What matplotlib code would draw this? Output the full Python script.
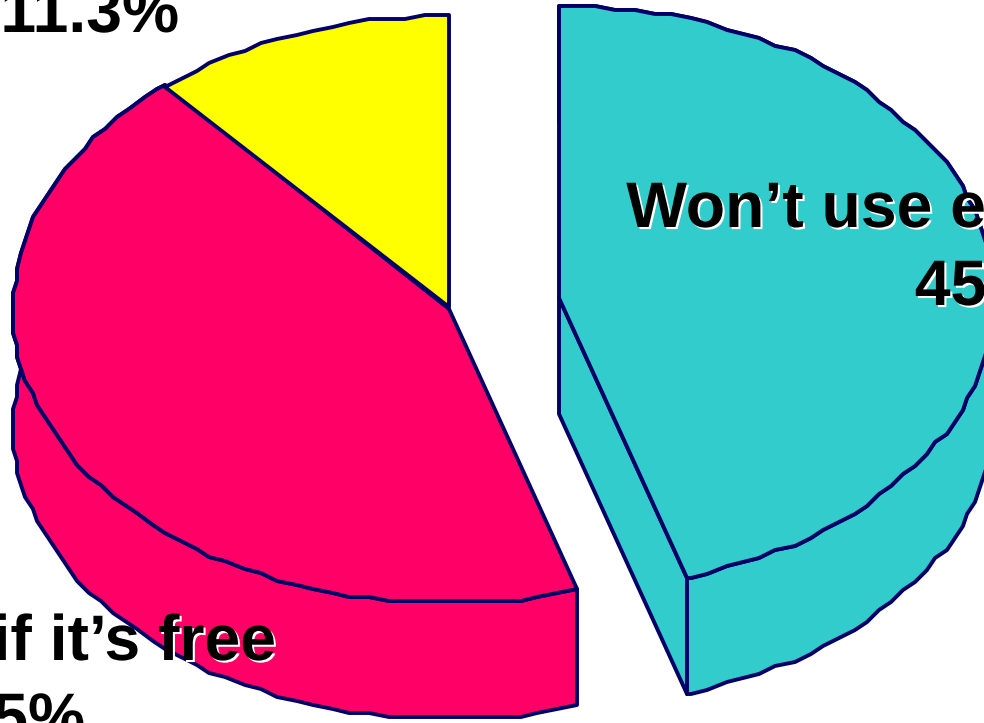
"""Exploded 3D pie, cropped the same way the slide screenshot is."""
import matplotlib

matplotlib.use("Agg")
import matplotlib.patheffects as pe
import matplotlib.pyplot as plt
import numpy as np

LABELS = ["Won\u2019t use even if it\u2019s free", "Will use if it\u2019s free", ""]
PERCENTS = [45.4, 43.5, 11.3]
PERCENT_TEXT = ["45.4%", "43.5%", "11.3%"]

TEAL = "#33CCCC"
PINK = "#FF0066"
YELLOW = "#FFFF00"
NAVY = "#000066"

RX = 436
DEPTH = 116
GRID = 4  # the original outline is visibly snapped to a coarse grid


def arc(cx, cy, ry, start, stop):
    """Points along the pie rim, angles in degrees clockwise from the top."""
    t = np.radians(np.arange(start, stop + 0.01, 2.5))
    t = np.append(t, np.radians(stop))
    x = cx + np.round(RX * np.sin(t) / GRID) * GRID
    y = cy - np.round(ry * np.cos(t) / GRID) * GRID
    return x, y


def draw_slice(ax, cx, cy, ry, start, stop, color, side_from=None):
    style = dict(facecolor=color, edgecolor=NAVY, linewidth=2.8, joinstyle="round")
    x, y = arc(cx, cy, ry, start, stop)
    if side_from is not None:
        # cut face on the exploded slice
        if side_from == "cut":
            ax.fill(
                [cx, cx, x[-1], x[-1]],
                [cy, cy + DEPTH, y[-1] + DEPTH, y[-1]],
                **style,
            )
        ax.fill(
            np.r_[x, x[::-1]],
            np.r_[y, y[::-1] + DEPTH],
            **style,
        )
    ax.fill(np.r_[cx, x], np.r_[cy, y], **style)


def draw_label(ax, x, y, text, ha="center"):
    ax.text(
        x,
        y,
        text,
        ha=ha,
        va="baseline",
        fontsize=46.3,
        fontweight="bold",
        family="Liberation Sans",
        color="black",
        path_effects=[
            pe.withSimplePatchShadow(offset=(1.5, -1.5), shadow_rgbFace="white", alpha=1.0)
        ],
    )


fig = plt.figure(figsize=(9.84, 7.23), dpi=100)
ax = fig.add_axes([0, 0, 1, 1])
ax.set_xlim(0, 984)
ax.set_ylim(723, 0)
ax.axis("off")

# rounded labels do not quite add up, so normalise like a pie does
angles = np.cumsum([0] + PERCENTS) / sum(PERCENTS) * 360

draw_slice(ax, 559, 298, 292, angles[0], angles[1], TEAL, side_from="cut")
draw_slice(ax, 449, 309, 294, angles[1], angles[2], PINK, side_from="rim")
draw_slice(ax, 449, 307, 291, angles[2], angles[3], YELLOW)

draw_label(ax, 1012, 227, LABELS[0])
draw_label(ax, 1006, 305, PERCENT_TEXT[0])
draw_label(ax, 4, 660, LABELS[1])
draw_label(ax, -6, 738, PERCENT_TEXT[1])
draw_label(ax, 179, 32, PERCENT_TEXT[2], ha="right")

fig.savefig("out.png", dpi=100)
